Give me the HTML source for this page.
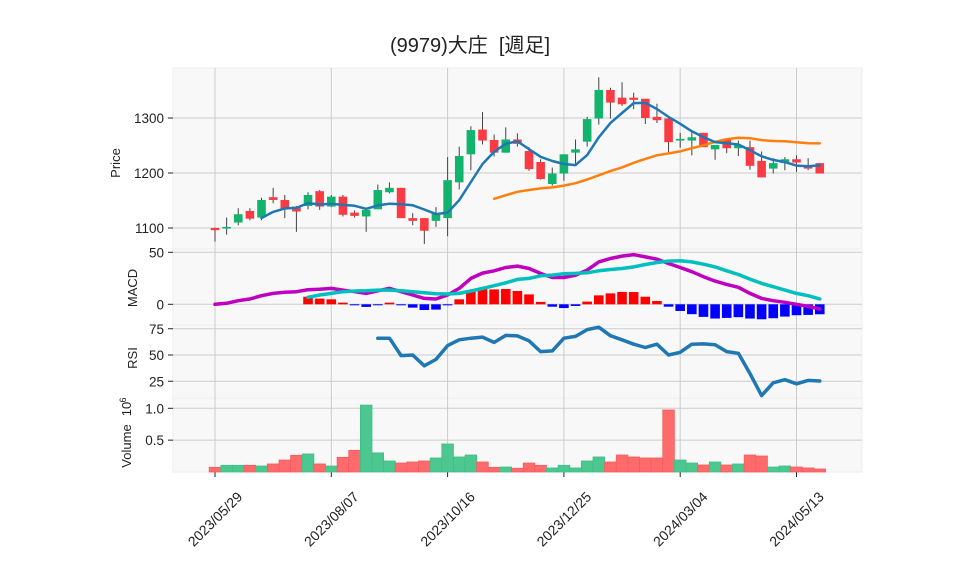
<!DOCTYPE html>
<html><head><meta charset="utf-8">
<style>
html,body{margin:0;padding:0;background:#fff;}
body{width:958px;height:575px;overflow:hidden;font-family:"Liberation Sans","Noto Sans CJK JP",sans-serif;}
svg text{font-family:"Liberation Sans","Noto Sans CJK JP",sans-serif;fill:#222;}
</style></head>
<body>
<svg id="chart" width="958" height="575" viewBox="0 0 958 575" xmlns="http://www.w3.org/2000/svg">
<text x="470" y="52" font-size="20" text-anchor="middle" style="white-space:pre" xml:space="preserve">(9979)大庄  [週足]</text>
</svg>
<script>
const dates=["2023/05/29","2023/08/07","2023/10/16","2023/12/25","2024/03/04","2024/05/13"];
const dateIdx=[0,10,20,30,40,50];
const opens=[1100,1099,1110,1131,1119,1156,1151,1139,1140,1167,1139,1157,1128,1121,1134,1165,1173,1118,1118,1113,1118,1183,1234,1279,1260,1237,1261,1240,1220,1180,1199,1237,1257,1299,1351,1337,1337,1335,1302,1299,1259,1259,1273,1243,1261,1245,1247,1222,1208,1218,1225,1211,1218];
const closes=[1096,1102,1125,1117,1151,1151,1134,1130,1160,1139,1157,1124,1122,1133,1169,1173,1118,1113,1095,1127,1187,1231,1278,1259,1237,1261,1253,1207,1189,1199,1234,1243,1298,1351,1328,1325,1333,1300,1296,1256,1262,1265,1247,1251,1245,1251,1213,1192,1218,1225,1219,1208,1199];
const highs=[1101,1119,1136,1136,1155,1173,1160,1140,1165,1169,1160,1160,1132,1133,1179,1183,1173,1127,1118,1138,1229,1248,1285,1311,1270,1283,1272,1247,1225,1210,1234,1261,1302,1374,1355,1365,1346,1335,1326,1300,1273,1276,1273,1251,1263,1259,1259,1239,1227,1229,1232,1227,1218];
const lows=[1075,1088,1105,1114,1114,1145,1118,1093,1134,1133,1138,1121,1119,1093,1134,1163,1118,1105,1071,1102,1085,1170,1205,1252,1230,1237,1248,1204,1188,1177,1186,1215,1248,1288,1299,1322,1316,1289,1291,1238,1246,1232,1247,1224,1236,1231,1206,1192,1199,1205,1202,1205,1199];
const macdVals=[0,1,3.5,5.1,8.3,10.5,11.5,12.1,14,14.4,15.3,13.7,12.1,10.5,13,15.3,12.1,8.9,5.7,5.1,8.9,15.3,24.9,30,32.2,35.4,36.7,34.4,29.7,25.8,25.8,28.1,32.9,40.8,44,46.3,47.8,45.6,43.4,39.2,35.4,31.3,26.5,22.3,19.1,16.3,10.5,5.7,3.5,1.9,0,-1.9,-4.5];
const signalVals=[null,null,null,null,null,null,null,null,6.7,8.9,10.5,12.1,12.8,13,13.7,13.7,13,12.1,11.2,10.2,9.9,10.5,12.8,15.3,17.9,20.7,23.9,24.9,27.4,28.1,29.4,29.7,30.3,32.2,33.5,34.4,36,38.3,40.2,41.5,41.8,40.8,38.6,36,32.2,28.7,24.2,20.1,16.9,13.7,10.5,8.3,5.1];
const rsiVals=[null,null,null,null,null,null,null,null,null,null,null,null,null,null,66,66,49.4,50,39.7,45.8,59,64.5,66,67,62,68.7,68.2,63.5,53.2,53.9,66,67.7,74.2,76.5,68.4,64.5,60.3,57.1,60.3,50,52.6,60.3,60.6,59.7,53.2,51.6,32.3,11.3,23.5,26.5,22.6,25.8,25.2];
const volumes=[0.073,0.105,0.105,0.105,0.094,0.126,0.188,0.262,0.283,0.126,0.094,0.23,0.34,1.05,0.30,0.173,0.141,0.157,0.173,0.22,0.44,0.236,0.267,0.157,0.073,0.078,0.058,0.141,0.105,0.063,0.105,0.063,0.173,0.236,0.157,0.267,0.236,0.22,0.22,0.974,0.188,0.141,0.11,0.157,0.11,0.126,0.267,0.251,0.078,0.094,0.078,0.063,0.047];
const priceTicks=[1100,1200,1300];
const macdTicks=[0,50];
const rsiTicks=[25,50,75];
const volTicks=[0.5,1.0];

const NS="http://www.w3.org/2000/svg";
const svg=document.getElementById('chart');
function mk(tag,attrs,parent){const e=document.createElementNS(NS,tag);for(const k in attrs)e.setAttribute(k,attrs[k]);(parent||svg).appendChild(e);return e;}

const L=173,R=862;
const xS=i=>215+i*11.63;
const yP=p=>173-(p-1200)*0.55;
const yM=v=>304.3-v*1.04;
const yR=v=>355-(v-50)*1.05;
const yV=v=>472-v*63.7;
const panels=[["price-panel",68,249],["macd-panel",249,325],["rsi-panel",325,398],["volume-panel",398,472]];

panels.forEach(p=>{
  const r=mk('rect',{x:L,y:p[1],width:R-L,height:p[2]-p[1],fill:'#f8f8f8',stroke:'#eeeeee','stroke-width':1});
  
  
});
dateIdx.forEach(i=>{
  const g=mk('line',{x1:xS(i),x2:xS(i),y1:68,y2:472,stroke:'#cccccc','stroke-width':1});
  
  
});
function yAxis(ticks,fn,fmt,name){
  ticks.forEach(t=>{
    const y=fn(t);
    const g=mk('line',{x1:L,x2:R,y1:y,y2:y,stroke:'#cccccc','stroke-width':1});
    
    
    const tk=mk('line',{x1:168,x2:L,y1:y,y2:y,stroke:'#222','stroke-width':1});
    
    
    const tx=mk('text',{x:164,y:y+5,'font-size':13.5,'text-anchor':'end'});
    tx.textContent=fmt(t);
    
    
  });
}
yAxis(priceTicks,yP,t=>String(t),'price-axis');
yAxis(macdTicks,yM,t=>String(t),'macd-axis');
yAxis(rsiTicks,yR,t=>String(t),'rsi-axis');
yAxis(volTicks,yV,t=>t.toFixed(1),'volume-axis');

function ylabel(txt,x,y,name){
  const t=mk('text',{x:x,y:y,'font-size':13,'text-anchor':'middle',transform:`rotate(-90 ${x} ${y})`});
  t.textContent=txt;
  
  
  return t;
}
ylabel('Price',120,163,'price-axis-title');
ylabel('MACD',137,288,'macd-axis-title');
ylabel('RSI',137,358,'rsi-axis-title');
ylabel('Volume',131,446,'volume-axis-title');
const ex=mk('text',{x:131,y:409,'font-size':13,'text-anchor':'middle',transform:'rotate(-90 131 409)'});
ex.textContent='10';


const ex2=mk('text',{x:126,y:400,'font-size':9,'text-anchor':'middle',transform:'rotate(-90 126 400)'});
ex2.textContent='6';



dateIdx.forEach((i,k)=>{
  const x=xS(i);
  const tk=mk('line',{x1:x,x2:x,y1:472,y2:477,stroke:'#222','stroke-width':1});
  
  
  const cy=519;
  const t=mk('text',{x:x,y:cy+5,'font-size':14,'text-anchor':'middle',transform:`rotate(-45 ${x} ${cy})`});
  t.textContent=dates[k];
  
  
});

const GREEN='#12b36d',RED='#fa3b44';
volumes.forEach((v,i)=>{
  const up=closes[i]>=opens[i];
  const b=mk('rect',{x:xS(i)-5.8,y:yV(v),width:11.6,height:472-yV(v),fill:up?'#4cc78f':'#ff6b6b',stroke:up?'#3fbf85':'#f55b5e','stroke-width':0.8});
  
  
});
opens.forEach((o,i)=>{
  const c=closes[i],up=c>=o,col=up?GREEN:RED,x=xS(i);
  const w=mk('line',{x1:x,x2:x,y1:yP(highs[i]),y2:yP(lows[i]),stroke:'#444','stroke-width':1});
  
  
  const top=yP(Math.max(o,c)),bot=yP(Math.min(o,c));
  const b=mk('rect',{x:x-4.3,y:top,width:8.6,height:Math.max(bot-top,1.5),fill:col});
  
  
});
function ma(n){return closes.map((_,i)=>i<n-1?null:closes.slice(i-n+1,i+1).reduce((a,b)=>a+b,0)/n);}
function line(vals,fn,color,w,name){
  let d='';vals.forEach((v,i)=>{if(v==null)return;d+=(d?'L':'M')+xS(i).toFixed(1)+','+fn(v).toFixed(1);});
  const p=mk('path',{d:d,fill:'none',stroke:color,'stroke-width':w,'stroke-linejoin':'round','stroke-linecap':'round'});
  
  
}
line(ma(25),yP,'#ff7f0e',2.5,'ma-long-line');
line(ma(5),yP,'#1f77b4',2.5,'ma-short-line');
macdVals.forEach((m,i)=>{
  const s=signalVals[i];if(s==null)return;
  const h=m-s,y0=yM(0),y1=yM(h);
  const b=mk('rect',{x:xS(i)-4.8,y:Math.min(y0,y1),width:9.6,height:Math.max(Math.abs(y1-y0),1),fill:h>=0?'#ff0000':'#0000ff'});
  
  
});
line(macdVals,yM,'#bf00bf',3.5,'macd-line');
line(signalVals,yM,'#00bfbf',3.5,'signal-line');
line(rsiVals,yR,'#1f77b4',3.5,'rsi-line');
</script>
</body></html>
